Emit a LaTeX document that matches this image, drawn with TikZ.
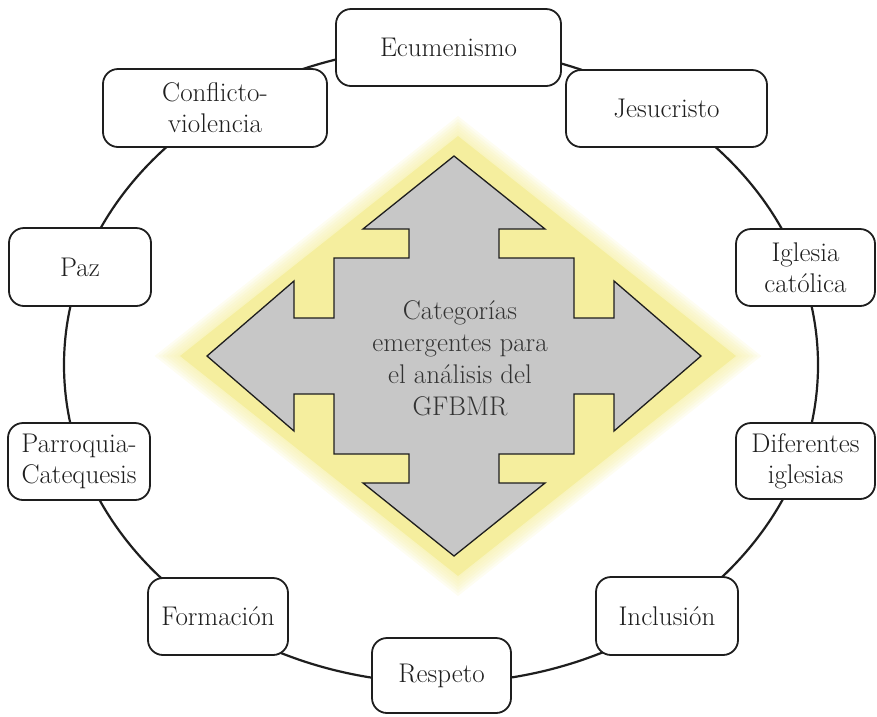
\documentclass[tikz,border=0pt]{standalone}
\usetikzlibrary{shapes.geometric}
\definecolor{glow}{RGB}{245,238,158}
\definecolor{arrowgray}{RGB}{199,199,199}
\definecolor{ink}{RGB}{30,30,30}
\begin{document}
\begin{tikzpicture}[x=1pt,y=-1pt,
  cat/.style={draw=ink, line width=1.8pt, rounded corners=15pt, fill=white,
    align=center, inner sep=0pt, font=\fontsize{27}{31}\selectfont, text=ink},
  ringline/.style={draw=ink, line width=2.2pt},
  bigarrow/.style={draw=ink, fill=arrowgray, line width=1.3pt, line join=miter}
]
\useasboundingbox (0,0) rectangle (877,716);
% soft glow and yellow diamond
\foreach \d in {20,17,...,2} {
  \fill[glow, opacity=0.14] (458,136-\d) -- (736+1.27*\d,356) -- (458,576+\d) -- (180-1.27*\d,356) -- cycle;
}
\fill[glow] (458,136) -- (736,356) -- (458,576) -- (180,356) -- cycle;
% ring
\node[ringline, ellipse, minimum width=754pt, minimum height=636pt, inner sep=0pt] (ring) at (441,365) {};
% four-way arrow
\draw[bigarrow, shift={(454,356)}]
  (0,-200) -- (91,-127) -- (45,-127) -- (45,-98) -- (120,-98) -- (120,-38) -- (160,-38) -- (160,-75)
  -- (247,0) -- (160,75) -- (160,38) -- (120,38) -- (120,98) -- (45,98) -- (45,127) -- (91,127)
  -- (0,200) -- (-91,127) -- (-45,127) -- (-45,98) -- (-120,98) -- (-120,38) -- (-160,38) -- (-160,75)
  -- (-247,0) -- (-160,-75) -- (-160,-38) -- (-120,-38) -- (-120,-98) -- (-45,-98) -- (-45,-127) -- (-91,-127) -- cycle;
\node[align=center, font=\fontsize{27}{32}\selectfont, text=black!80] (centre) at (460,358)
  {Categorías\\emergentes para\\el análisis del\\GFBMR};
% category boxes
\node[cat, minimum width=225pt, minimum height=77pt] (ecu) at (448.5,47.5) {Ecumenismo};
\node[cat, minimum width=201pt, minimum height=77pt] (jes) at (666.5,108.5) {Jesucristo};
\node[cat, minimum width=224pt, minimum height=78pt] (con) at (215,108) {Conflicto-\\violencia};
\node[cat, minimum width=142pt, minimum height=78pt] (paz) at (80,267) {Paz};
\node[cat, minimum width=142pt, minimum height=77pt] (par) at (79,461.5) {Parroquia-\\Catequesis};
\node[cat, minimum width=140pt, minimum height=77pt] (for) at (218,616.5) {Formación};
\node[cat, minimum width=139pt, minimum height=75pt] (res) at (441.5,675.5) {Respeto};
\node[cat, minimum width=142pt, minimum height=78pt] (inc) at (667,616) {Inclusión};
\node[cat, minimum width=139pt, minimum height=76pt] (dif) at (805.5,461) {Diferentes\\iglesias};
\node[cat, minimum width=139pt, minimum height=77pt] (igl) at (805.5,267.5) {Iglesia\\católica};
\end{tikzpicture}
\end{document}
